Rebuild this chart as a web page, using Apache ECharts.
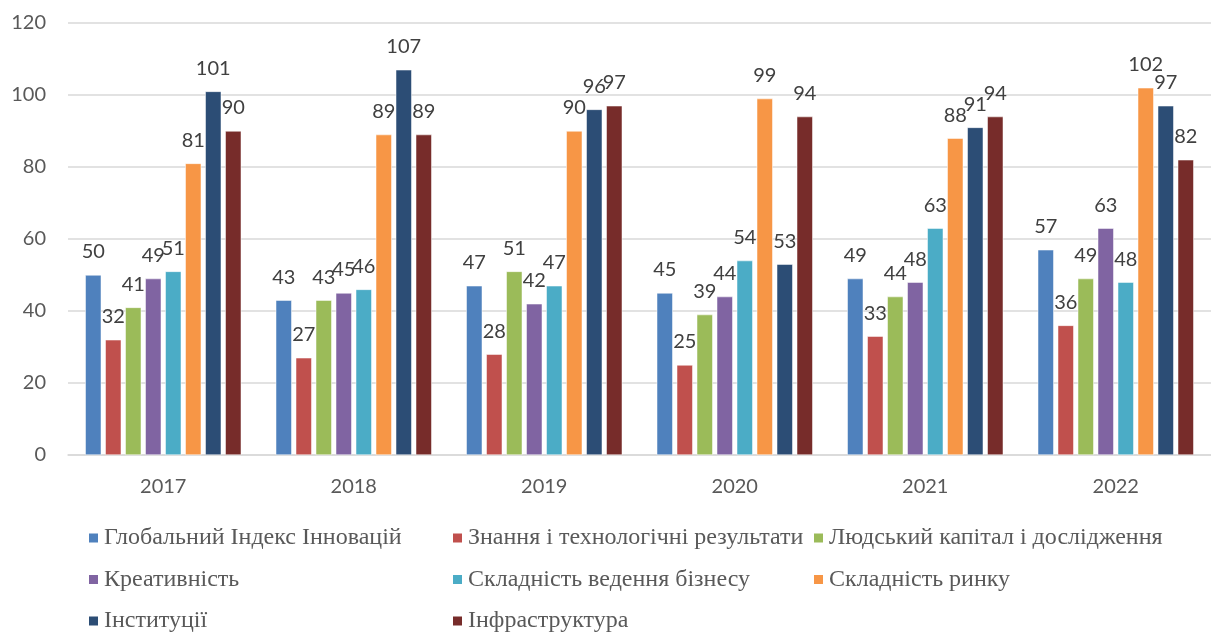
<!DOCTYPE html>
<html>
<head>
<meta charset="utf-8">
<script src="https://cdn.jsdelivr.net/npm/echarts@6/dist/echarts.min.js"></script>
<style>
  html, body { margin: 0; padding: 0; background: #fff; }
  #main { width: 1211px; height: 634px; }
</style>
</head>
<body>
<div id="main"></div>
<script>
// data
var years = ['2017', '2018', '2019', '2020', '2021', '2022'];
var seriesNames = [
    'Глобальний Індекс Інновацій',
    'Знання і технологічні результати',
    'Людський капітал і дослідження',
    'Креативність',
    'Складність ведення бізнесу',
    'Складність ринку',
    'Інституції',
    'Інфраструктура'
];
var gii         = [50, 43, 47, 45, 49, 57];
var knowledge   = [32, 27, 28, 25, 33, 36];
var human       = [41, 43, 51, 39, 44, 49];
var creative    = [49, 45, 42, 44, 48, 63];
var business    = [51, 46, 47, 54, 63, 48];
var market      = [81, 89, 90, 99, 88, 102];
var institutions = [101, 107, 96, 53, 91, 97];
var infra       = [90, 89, 97, 94, 94, 82];
var yTicks = [0, 20, 40, 60, 80, 100, 120];

var colors = ['#4F81BD', '#C0504D', '#9BBB59', '#8064A2', '#4BACC6', '#F79646', '#2C4D75', '#772C2A'];
var values = [gii, knowledge, human, creative, business, market, institutions, infra];

var numFont = 'Lato, sans-serif';
var legFont = 'Times New Roman, Liberation Serif, serif';

var myChart = echarts.init(document.getElementById('main'));

function legendCol(left, names) {
    return {
        orient: 'vertical',
        left: left,
        top: 526,
        height: 120,
        padding: 0,
        itemWidth: 11,
        itemHeight: 11,
        itemGap: 17.5,
        icon: 'rect',
        data: names,
        textStyle: { fontFamily: legFont, fontSize: 24, lineHeight: 24, color: '#595959', padding: [0, 0, 0, 0] }
    };
}

var option = {
    animation: false,
    color: colors,
    textStyle: { fontFamily: legFont },
    grid: { left: 68, top: 23, width: 1149, height: 432, containLabel: false },
    legend: [
        legendCol(87, [seriesNames[0], seriesNames[3], seriesNames[6]]),
        legendCol(451, [seriesNames[1], seriesNames[4], seriesNames[7]]),
        legendCol(812, [seriesNames[2], seriesNames[5]])
    ],
    xAxis: {
        type: 'category',
        data: years,
        axisTick: { show: false },
        axisLine: { lineStyle: { color: '#d9d9d9', width: 1.5 } },
        axisLabel: { fontFamily: numFont, fontSize: 20, color: '#595959', margin: 22 }
    },
    yAxis: {
        type: 'value',
        min: yTicks[0],
        max: yTicks[yTicks.length - 1],
        interval: 20,
        axisLine: { show: false },
        axisTick: { show: false },
        splitLine: { lineStyle: { color: '#d9d9d9', width: 1.5 } },
        axisLabel: { fontFamily: numFont, fontSize: 20, color: '#595959', margin: 22 }
    },
    series: seriesNames.map(function (name, i) {
        return {
            name: name,
            type: 'bar',
            data: values[i],
            barWidth: 16,
            barGap: '25%',
            itemStyle: { color: colors[i], borderColor: '#ffffff', borderWidth: 0.5 },
            label: {
                show: true,
                position: 'top',
                distance: 13,
                fontFamily: numFont,
                fontSize: 20,
                color: '#404040'
            }
        };
    })
};

myChart.setOption(option, true);
</script>
</body>
</html>
